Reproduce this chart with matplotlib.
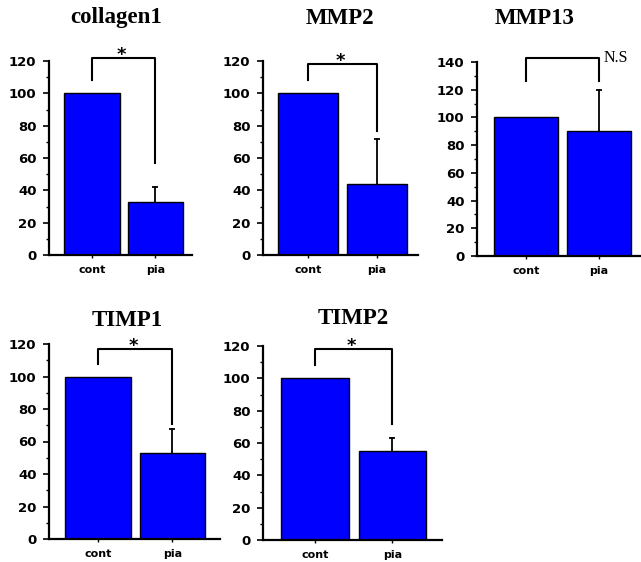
import matplotlib
matplotlib.use("Agg")
import matplotlib.pyplot as plt
from matplotlib.ticker import MultipleLocator

titles = ['collagen1', 'MMP2', 'MMP13', 'TIMP1', 'TIMP2']
groups = ['cont', 'pia']
cont = [100, 100, 100, 100, 100]
pia = [33, 44, 90, 53, 55]
pia_err = [9, 28, 30, 15, 8]
ymax = [120, 120, 140, 120, 120]
# significance brackets: left leg bottom, top, right leg bottom
br_left = [108, 108, 126, 108, 108]
br_top = [122, 118, 143, 117, 118]
br_right = [57, 77, 126, 71, 72]
marks = ['*', '*', 'N.S', '*', '*']

W, H = 641, 562
# pixel boxes: left, right, y of zero, y of top
boxes = [(49, 192, 255, 61), (263, 418, 255, 61), (477, 640, 256, 62),
         (49, 220, 539, 344), (263, 442, 540, 346)]
xlims = [(-0.677, 1.575), (-0.652, 1.594), (-0.671, 1.562),
         (-0.658, 1.638), (-0.68, 1.643)]
title_pos = [(116, 18), (340, 18), (535, 18), (127, 320), (353, 319)]

fig = plt.figure(figsize=(W / 100, H / 100), dpi=100)

for i in range(len(titles)):
    l, r, y0, yt = boxes[i]
    ax = fig.add_axes([l / W, (H - y0) / H, (r - l) / W, (y0 - yt) / H])
    ax.bar([0, 1], [cont[i], pia[i]], width=0.88, color='#0000ff',
           edgecolor='black', linewidth=1.0, zorder=2)
    # upper error bar only
    ax.plot([1, 1], [pia[i], pia[i] + pia_err[i]], color='black', lw=1.3, zorder=1)
    ax.plot([1], [pia[i] + pia_err[i]], marker='_', ms=5, mew=1.3,
            color='black', zorder=1)
    ax.plot([0, 0, 1, 1], [br_left[i], br_top[i], br_top[i], br_right[i]],
            color='black', lw=1.5, clip_on=False)
    if marks[i] == '*':
        ax.text(0.47, br_top[i] + 2, '*', ha='center', va='center',
                fontsize=13, fontweight='bold')
    else:
        ax.text(1.07, br_top[i], marks[i], ha='left', va='center',
                fontsize=11.5, family='Liberation Serif')

    ax.set_xlim(*xlims[i])
    ax.set_ylim(0, ymax[i])
    ax.yaxis.set_major_locator(MultipleLocator(20))
    ax.yaxis.set_minor_locator(MultipleLocator(10))
    ax.set_xticks([0, 1])
    ax.set_xticklabels(groups, fontsize=8, fontweight='bold')
    for lab in ax.get_yticklabels():
        lab.set_fontweight('bold')
        lab.set_fontsize(9.5)
    ax.tick_params(axis='y', which='major', length=4, width=1.2, pad=5)
    ax.tick_params(axis='y', which='minor', length=2, width=1)
    ax.tick_params(axis='x', length=2, width=1, pad=5)
    for s in ['top', 'right']:
        ax.spines[s].set_visible(False)
    for s in ['left', 'bottom']:
        ax.spines[s].set_linewidth(1.6)

    tx, ty = title_pos[i]
    fig.text(tx / W, (H - ty) / H, titles[i], ha='center', va='center',
             fontsize=16.5, fontweight='bold', family='Liberation Serif')

fig.savefig('out.png', dpi=100)
